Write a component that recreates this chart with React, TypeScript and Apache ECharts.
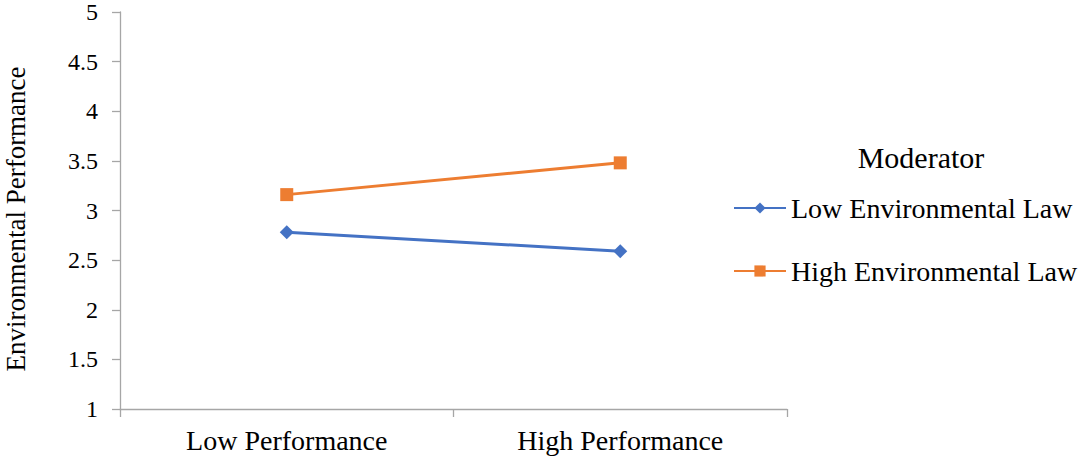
import React, { useEffect, useRef } from "react";
import * as echarts from "echarts";

const categories = ["Low Performance", "High Performance"];
const lowLaw = [2.78, 2.59];
const highLaw = [3.16, 3.48];
const seriesNames = ["Low Environmental Law", "High Environmental Law"];
const yTicks = { min: 1, max: 5, interval: 0.5 };
const yAxisTitle = "Environmental Performance";
const legendTitle = "Moderator";

const FONT = "'Liberation Serif', 'Times New Roman', serif";

export default function App() {
  const ref = useRef<HTMLDivElement>(null);
  useEffect(() => {
    if (!ref.current) return;
    const chart = echarts.init(ref.current, null, { renderer: "svg" });
    chart.setOption({
      animation: false,
      backgroundColor: "#fff",
      textStyle: { fontFamily: FONT, color: "#000" },
      grid: {
        left: 120,
        right: 297,
        top: 12,
        bottom: 52,
        containLabel: false,
        outerBoundsMode: "none",
      },
      xAxis: {
        type: "category",
        data: categories,
        boundaryGap: true,
        axisLine: { lineStyle: { color: "#a6a6a6", width: 1.3 } },
        axisTick: { show: true, length: 8, lineStyle: { color: "#a6a6a6", width: 1.3 } },
        axisLabel: { fontSize: 28, color: "#000", fontFamily: FONT, margin: 17 },
      },
      yAxis: {
        type: "value",
        min: yTicks.min,
        max: yTicks.max,
        interval: yTicks.interval,
        axisLine: { show: true, lineStyle: { color: "#a6a6a6", width: 1.3 } },
        axisTick: { show: true, length: 8, lineStyle: { color: "#a6a6a6", width: 1.3 } },
        splitLine: { show: false },
        axisLabel: { fontSize: 24, color: "#000", fontFamily: FONT, margin: 22 },
      },
      legend: {
        orient: "vertical",
        left: 728,
        top: 189,
        itemWidth: 52,
        itemHeight: 14,
        itemGap: 35,
        textStyle: {
          fontSize: 28,
          lineHeight: 28,
          color: "#000",
          fontFamily: FONT,
          padding: [0, 0, 0, 0],
        },
        data: seriesNames,
      },
      graphic: [
        {
          type: "text",
          x: 921,
          y: 157,
          style: {
            text: legendTitle,
            fontSize: 30,
            fontFamily: FONT,
            fill: "#000",
            align: "center",
            verticalAlign: "middle",
          },
        },
        {
          type: "text",
          x: 16,
          y: 219,
          rotation: Math.PI / 2,
          style: {
            text: yAxisTitle,
            fontSize: 27,
            fontFamily: FONT,
            fill: "#000",
            align: "center",
            verticalAlign: "middle",
          },
        },
      ],
      series: [
        {
          name: seriesNames[0],
          type: "line",
          data: lowLaw,
          symbol: "diamond",
          symbolSize: 14,
          lineStyle: { color: "#4472C4", width: 3 },
          itemStyle: { color: "#4472C4" },
        },
        {
          name: seriesNames[1],
          type: "line",
          data: highLaw,
          symbol: "rect",
          symbolSize: 13,
          lineStyle: { color: "#ED7D31", width: 3 },
          itemStyle: { color: "#ED7D31" },
        },
      ],
    });
    return () => chart.dispose();
  }, []);
  return (
    <div
      ref={ref}
      style={{ position: "fixed", left: 0, top: 0, width: 1084, height: 461, background: "#fff" }}
    />
  );
}
